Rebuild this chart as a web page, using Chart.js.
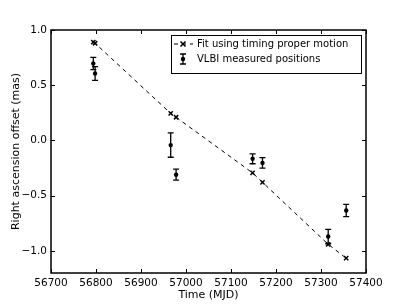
<!DOCTYPE html>
<html><head><meta charset="utf-8">
<script src="https://cdn.jsdelivr.net/npm/chart.js@4"></script>
<style>html,body{margin:0;padding:0;background:#fff}#wrap{width:407px;height:305px;position:relative}</style>
</head><body><div id="wrap"><canvas id="c" width="407" height="305"></canvas></div>
<script>
const epochs = [56794, 56798, 56966, 56978, 57148, 57170, 57316, 57356];
const fitRA = [0.89, 0.88, 0.245, 0.21, -0.294, -0.379, -0.94, -1.066];
const vlbiRA = [0.697, 0.606, -0.042, -0.31, -0.166, -0.203, -0.87, -0.634];
const vlbiErr = [0.055, 0.062, 0.11, 0.05, 0.045, 0.048, 0.065, 0.055];
const xTicks = [56700, 56800, 56900, 57000, 57100, 57200, 57300, 57400];
const yTicks = [1.0, 0.5, 0.0, -0.5, -1.0];
const legendLabels = ['Fit using timing proper motion', 'VLBI measured positions'];
const xTitle = 'Time (MJD)';
const yTitle = 'Right ascension offset (mas)';

const FONT = 'DejaVu Sans';

const errorBars = {
  id: 'errorBars',
  afterDatasetsDraw(chart) {
    const {ctx, scales: {x, y}} = chart;
    ctx.save();
    ctx.strokeStyle = '#000';
    ctx.lineWidth = 1.3;
    epochs.forEach((e, i) => {
      const px = x.getPixelForValue(e);
      const top = y.getPixelForValue(vlbiRA[i] + vlbiErr[i]);
      const bot = y.getPixelForValue(vlbiRA[i] - vlbiErr[i]);
      ctx.beginPath();
      ctx.moveTo(px, top); ctx.lineTo(px, bot);
      ctx.moveTo(px - 3, top); ctx.lineTo(px + 3, top);
      ctx.moveTo(px - 3, bot); ctx.lineTo(px + 3, bot);
      ctx.stroke();
    });
    ctx.restore();
  }
};

const frame = {
  id: 'frame',
  afterDraw(chart) {
    const {ctx, chartArea: a, scales: {x, y}} = chart;
    ctx.save();
    ctx.strokeStyle = '#000';
    ctx.lineWidth = 1;
    const L = 4;
    ctx.beginPath();
    x.ticks.forEach(t => {
      const px = Math.round(x.getPixelForValue(t.value)) + 0.5;
      ctx.moveTo(px, a.bottom); ctx.lineTo(px, a.bottom - L);
      ctx.moveTo(px, a.top); ctx.lineTo(px, a.top + L);
    });
    y.ticks.forEach(t => {
      const py = Math.round(y.getPixelForValue(t.value)) + 0.5;
      ctx.moveTo(a.left, py); ctx.lineTo(a.left + L, py);
      ctx.moveTo(a.right, py); ctx.lineTo(a.right - L, py);
    });
    ctx.stroke();
    ctx.lineWidth = 1.5;
    ctx.strokeRect(a.left, a.top, a.right - a.left, a.bottom - a.top);

    // legend
    const bx = 171.5, by = 35.5, bw = 190, bh = 38;
    ctx.fillStyle = '#fff';
    ctx.fillRect(bx, by, bw, bh);
    ctx.lineWidth = 1;
    ctx.strokeRect(bx, by, bw, bh);
    const r1 = 44, r2 = 59, sx = 183;
    ctx.setLineDash([4, 4]);
    ctx.beginPath(); ctx.moveTo(174, r1); ctx.lineTo(193, r1); ctx.stroke();
    ctx.setLineDash([]);
    ctx.lineWidth = 1.5;
    ctx.beginPath();
    ctx.moveTo(sx - 2.5, r1 - 2.5); ctx.lineTo(sx + 2.5, r1 + 2.5);
    ctx.moveTo(sx - 2.5, r1 + 2.5); ctx.lineTo(sx + 2.5, r1 - 2.5);
    ctx.stroke();
    ctx.lineWidth = 1.3;
    ctx.beginPath();
    ctx.moveTo(sx, r2 - 5); ctx.lineTo(sx, r2 + 5);
    ctx.moveTo(sx - 3, r2 - 5); ctx.lineTo(sx + 3, r2 - 5);
    ctx.moveTo(sx - 3, r2 + 5); ctx.lineTo(sx + 3, r2 + 5);
    ctx.stroke();
    ctx.fillStyle = '#000';
    ctx.beginPath(); ctx.arc(sx, r2, 2.2, 0, Math.PI * 2); ctx.fill();
    ctx.font = '10px "' + FONT + '"';
    ctx.textBaseline = 'middle';
    ctx.textAlign = 'left';
    ctx.fillText(legendLabels[0], 197, r1);
    ctx.fillText(legendLabels[1], 197, r2);
    ctx.restore();
  }
};

const fmt = v => {
  const s = Math.abs(v).toFixed(1);
  return (v < -1e-9 ? '\u2212' : '') + s;
};

new Chart(document.getElementById('c'), {
  type: 'line',
  data: {
    datasets: [
      {
        label: legendLabels[0],
        data: epochs.map((e, i) => ({x: e, y: fitRA[i]})),
        borderColor: '#000',
        borderWidth: 1,
        borderDash: [4, 4],
        pointStyle: 'crossRot',
        pointRadius: 3,
        pointBorderWidth: 1.5,
        pointBorderColor: '#000',
        fill: false,
        tension: 0
      },
      {
        label: legendLabels[1],
        data: epochs.map((e, i) => ({x: e, y: vlbiRA[i]})),
        showLine: false,
        pointStyle: 'circle',
        pointRadius: 2.2,
        pointBackgroundColor: '#000',
        pointBorderColor: '#000',
        pointBorderWidth: 0
      }
    ]
  },
  options: {
    responsive: false,
    animation: false,
    devicePixelRatio: 1,
    layout: {padding: {left: 0, top: 30, right: 41, bottom: 0}},
    plugins: {legend: {display: false}, tooltip: {enabled: false}},
    scales: {
      x: {
        type: 'linear', min: 56700, max: 57400,
        afterBuildTicks: s => { s.ticks = xTicks.map(v => ({value: v})); },
        afterFit: s => { s.height = 32; },
        grid: {display: false, drawTicks: false},
        border: {display: false},
        ticks: {padding: 4, color: '#000', font: {family: FONT, size: 10.5}, callback: v => String(v)},
        title: {display: true, text: xTitle, color: '#000', font: {family: FONT, size: 11}, padding: {top: 0, bottom: 3}}
      },
      y: {
        type: 'linear', min: -1.2, max: 1.0,
        afterBuildTicks: s => { s.ticks = yTicks.map(v => ({value: v})); },
        afterFit: s => { s.width = 51; },
        grid: {display: false, drawTicks: false},
        border: {display: false},
        ticks: {padding: 4, color: '#000', font: {family: FONT, size: 10.5}, callback: v => fmt(v)},
        title: {display: true, text: yTitle, color: '#000', font: {family: FONT, size: 11}, padding: {top: 10, bottom: 0}}
      }
    }
  },
  plugins: [errorBars, frame]
});
</script></body></html>
